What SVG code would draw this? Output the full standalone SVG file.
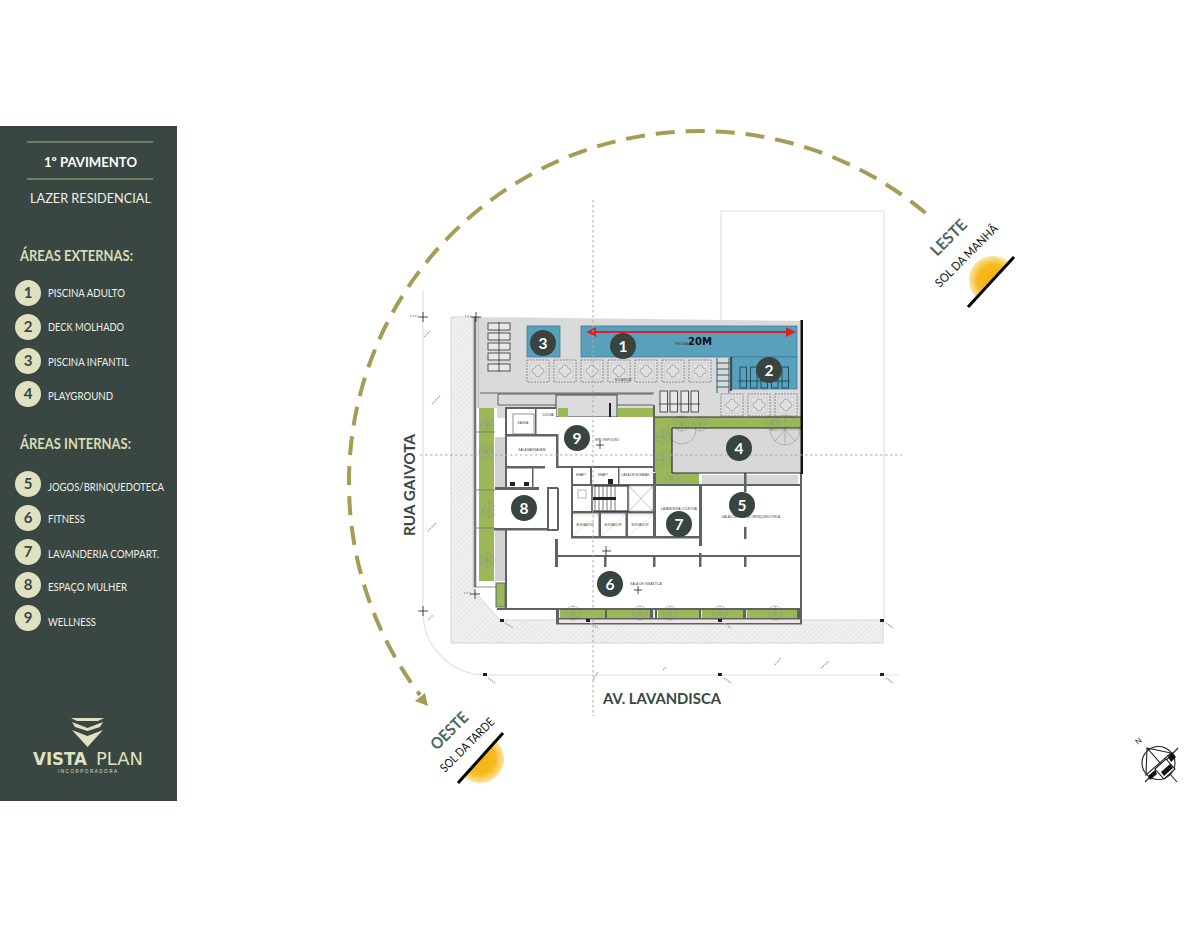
<svg xmlns="http://www.w3.org/2000/svg" width="1200" height="927" viewBox="0 0 1200 927">
<defs>
<style>
.s{font-family:"Lato","Liberation Sans",sans-serif}
.hd{font-size:14.5px;font-weight:700;fill:#d6dcb6}
.it{font-size:10.500px;fill:#eef0e6}
.num{font-size:15px;font-weight:700;fill:#3a4642;text-anchor:middle}
.bub{fill:#dfe1c0}
.tag{fill:#37443f}
.tagt{font-size:15.500px;font-weight:700;fill:#fff;text-anchor:middle;font-family:"Lato","Liberation Sans",sans-serif}
.wall{fill:#5f6463}
.fine{fill:none;stroke:#e2e2e2;stroke-width:1.200}
.tiny{font-family:"Liberation Sans",sans-serif;font-size:3.200px;fill:#444;text-anchor:middle}
.pl{fill:#e0e0e0;stroke:#777;stroke-width:.8;stroke-dasharray:2 1}
.pli{fill:none;stroke:#a8a8a8;stroke-width:.9}
.lg{fill:#e8e8e8;stroke:#444;stroke-width:.9}
.gr{fill:#9bb858}
.plant{fill:none;stroke:#8a9a80;stroke-width:.7;opacity:.8}
.road{font-family:"Lato","Liberation Sans",sans-serif;font-size:15.500px;font-weight:700;fill:#3a4642}
.dir{font-family:"Lato","Liberation Sans",sans-serif;font-size:16px;font-weight:700;fill:#4d6660}
.sun{font-family:"Lato","Liberation Sans",sans-serif;font-size:12px;fill:#111}
.mk{fill:#222}
.st{stroke:#aaa;stroke-width:1.500;fill:none;stroke-dasharray:1.500 1}
</style>
<pattern id="h" width="3.500" height="3.500" patternUnits="userSpaceOnUse" patternTransform="rotate(-45)">
<rect width="3.500" height="3.500" fill="#f0f0f0"/><line x1="0" y1="0" x2="3.500" y2="0" stroke="#dcdcdc" stroke-width="1"/>
</pattern>
<radialGradient id="ge" gradientUnits="userSpaceOnUse" cx="993" cy="280" r="24"><stop offset="0" stop-color="#f4b20c"/><stop offset=".65" stop-color="#f5bb22"/><stop offset="1" stop-color="#fbe6a8"/></radialGradient>
<radialGradient id="gw" gradientUnits="userSpaceOnUse" cx="480" cy="759" r="24"><stop offset="0" stop-color="#f4b20c"/><stop offset=".65" stop-color="#f5bb22"/><stop offset="1" stop-color="#fbe6a8"/></radialGradient>
<g id="p"><rect class="pl" width="22" height="22"/><path class="pli" d="M11 5a3 3 0 0 1 3 3a3 3 0 0 1 3 3a3 3 0 0 1-3 3a3 3 0 0 1-3 3a3 3 0 0 1-3-3a3 3 0 0 1-3-3a3 3 0 0 1 3-3a3 3 0 0 1 3-3z"/><rect x="3" y="3" width="16" height="16" fill="none" stroke="#c4c4c4" stroke-width=".6"/></g>
<g id="tree"><circle class="plant" r="7"/><path class="plant" d="M-7 0H7M0-7V7M-5-5L5 5M5-5L-5 5"/></g>
<marker id="ah" markerWidth="5" markerHeight="5" refX="4" refY="2.500" orient="auto"><path d="M0 0L5 2.500L0 5z" fill="#d8232a"/></marker>
<marker id="as" markerWidth="5" markerHeight="5" refX="4" refY="2.500" orient="auto-start-reverse"><path d="M0 0L5 2.500L0 5z" fill="#d8232a"/></marker>
</defs>
<rect width="1200" height="927" fill="#fff"/>
<g id="sidebar">
<rect width="177" height="675" y="126" fill="#3a4642"/>
<path d="M27 142H153M27 179H153" stroke="#aab58f" stroke-width="1"/>
<text class="s" x="44" y="167" font-size="13.500" font-weight="700" fill="#fff" textLength="93" lengthAdjust="spacingAndGlyphs">1º PAVIMENTO</text>
<text class="s" x="30" y="203" font-size="14" fill="#eef0e6" textLength="121" lengthAdjust="spacingAndGlyphs">LAZER RESIDENCIAL</text>
<text class="s hd" x="20" y="261" textLength="113" lengthAdjust="spacingAndGlyphs">ÁREAS EXTERNAS:</text>
<text class="s hd" x="20" y="449" textLength="111" lengthAdjust="spacingAndGlyphs">ÁREAS INTERNAS:</text>
<g id="k1"><circle class="bub" cx="28" cy="293" r="13"/><text class="s num" x="28" y="298">1</text><text class="s it" x="48" y="297" textLength="77" lengthAdjust="spacingAndGlyphs">PISCINA ADULTO</text></g>
<g id="k2"><circle class="bub" cx="28" cy="327" r="13"/><text class="s num" x="28" y="332">2</text><text class="s it" x="48" y="331" textLength="76" lengthAdjust="spacingAndGlyphs">DECK MOLHADO</text></g>
<g id="k3"><circle class="bub" cx="28" cy="361" r="13"/><text class="s num" x="28" y="366">3</text><text class="s it" x="48" y="366" textLength="81" lengthAdjust="spacingAndGlyphs">PISCINA INFANTIL</text></g>
<g id="k4"><circle class="bub" cx="28" cy="394" r="13"/><text class="s num" x="28" y="399">4</text><text class="s it" x="48" y="400" textLength="65" lengthAdjust="spacingAndGlyphs">PLAYGROUND</text></g>
<g id="k5"><circle class="bub" cx="28" cy="484" r="13"/><text class="s num" x="28" y="489">5</text><text class="s it" x="48" y="491" textLength="116" lengthAdjust="spacingAndGlyphs">JOGOS/BRINQUEDOTECA</text></g>
<g id="k6"><circle class="bub" cx="28" cy="518" r="13"/><text class="s num" x="28" y="523">6</text><text class="s it" x="48" y="523" textLength="37" lengthAdjust="spacingAndGlyphs">FITNESS</text></g>
<g id="k7"><circle class="bub" cx="28" cy="552" r="13"/><text class="s num" x="28" y="557">7</text><text class="s it" x="48" y="558" textLength="111" lengthAdjust="spacingAndGlyphs">LAVANDERIA COMPART.</text></g>
<g id="k8"><circle class="bub" cx="28" cy="585" r="13"/><text class="s num" x="28" y="590">8</text><text class="s it" x="48" y="591" textLength="79" lengthAdjust="spacingAndGlyphs">ESPAÇO MULHER</text></g>
<g id="k9"><circle class="bub" cx="28" cy="618" r="13"/><text class="s num" x="28" y="623">9</text><text class="s it" x="48" y="626" textLength="48" lengthAdjust="spacingAndGlyphs">WELLNESS</text></g>
<g id="logo">
<path d="M71 718H104L98 721H77zM72 722L87.500 728L103 722L100 727L87.500 731L75 727zM72 730L87.500 736L103 730L87.500 747z" fill="#dfe1c0"/>
<text x="33" y="765" font-family="'DejaVu Sans',sans-serif" font-size="17" font-weight="700" fill="#dfe1c0" textLength="54" lengthAdjust="spacingAndGlyphs">VISTA</text>
<text x="96" y="765" font-family="'DejaVu Sans',sans-serif" font-size="17" fill="#dfe1c0" textLength="47" lengthAdjust="spacingAndGlyphs">PLAN</text>
<text x="58" y="773" font-family="'Liberation Sans',sans-serif" font-size="4.500" fill="#dfe1c0" textLength="59">INCORPORADORA</text>
</g>
</g>
<g id="site">
<path class="fine" d="M721 320V211H884V620"/>
<path class="fine" d="M423 290V612A63 63 0 0 0 486 675H900"/>
<path d="M451 317H473V590L500 620H883V643H451z" fill="url(#h)" stroke="#d4d4d4"/>
<path d="M478 317L802 321V418H478z" fill="#dadada"/>
<path d="M474 317H476V587H474zM478 317V408" stroke="#777" fill="#777" stroke-width=".6"/>
<rect x="477" y="408" width="20" height="179" fill="#fff"/>
<rect x="479" y="408" width="15" height="173" class="gr"/>
<path d="M475 432H495M475 490H495M475 528H495M475 587H497" stroke="#777" stroke-width=".8"/>
<use href="#tree" x="487" y="425"/><use href="#tree" x="486" y="452"/><use href="#tree" x="489" y="510"/><use href="#tree" x="487" y="560"/>
<rect x="495" y="437" width="10" height="51" fill="#d2d2d2"/><rect x="495" y="530" width="10" height="51" fill="#d2d2d2"/>
<rect x="496" y="583" width="9" height="24" class="gr" stroke="#666"/>
<rect x="581" y="326" width="216" height="31" fill="#5aa0bd" stroke="#3a7f9a" stroke-width=".8"/>
<rect x="527" y="326" width="33" height="31" fill="#5aa0bd" stroke="#3a7f9a" stroke-width=".8"/>
<rect x="732" y="357" width="65" height="32" fill="#5aa0bd" stroke="#3a7f9a" stroke-width=".8"/>
<g class="lg"><rect x="488" y="323" width="22" height="7"/><rect x="488" y="333" width="22" height="7"/><rect x="488" y="343" width="22" height="7"/><rect x="488" y="353" width="22" height="7"/><rect x="488" y="364" width="22" height="7"/></g>
<path d="M499 322V372" stroke="#333" stroke-width=".8" fill="none"/>
<g fill="none" stroke="#1d5060" stroke-width="1"><rect x="740" y="367" width="6.500" height="21"/><rect x="750.500" y="367" width="6.500" height="21"/><rect x="761" y="367" width="6.500" height="21"/><rect x="771.500" y="367" width="6.500" height="21"/><rect x="782" y="367" width="6.500" height="21"/><path d="M738 381H790"/></g>
<g class="lg"><rect x="660" y="391" width="7.500" height="21"/><rect x="670" y="391" width="7.500" height="21"/><rect x="681" y="391" width="7.500" height="21"/><rect x="691" y="391" width="7.500" height="21"/><path d="M659 404H700" fill="none"/></g>
<use href="#p" x="527" y="360"/><use href="#p" x="554" y="360"/><use href="#p" x="581" y="360"/><use href="#p" x="608" y="360"/><use href="#p" x="635" y="360"/><use href="#p" x="662" y="360"/><use href="#p" x="689" y="360"/>
<use href="#p" x="721" y="394"/><use href="#p" x="748" y="394"/><use href="#p" x="775" y="394"/>
<path d="M717 358V393M729 358V393M717 363H729M717 369H729M717 375H729M717 381H729M717 387H729" stroke="#2b5a66" stroke-width="1" fill="none"/>
<path d="M731 357V391" stroke="#222" stroke-width="1.500"/>
<path d="M588 332H794" stroke="#d8232a" stroke-width="2" marker-start="url(#as)" marker-end="url(#ah)"/>
<text x="675" y="345" font-family="'Liberation Sans',sans-serif" font-size="3.200" fill="#333">PISCINA</text>
<text x="688" y="345" font-family="'DejaVu Sans',sans-serif" font-size="10" font-weight="700" fill="#111" textLength="24" lengthAdjust="spacingAndGlyphs">20M</text>
<text class="tiny" x="623" y="381">SOLARIUM</text>
<path d="M480 393H654M498 394H653M498 405H653M498 394V405" stroke="#444" stroke-width=".8" fill="none"/>
<rect x="556" y="395" width="61" height="22" fill="#dcdcdc" stroke="#333" stroke-width=".9"/>
<rect x="558" y="408" width="10" height="9" class="gr"/>
<rect x="618" y="408" width="35" height="9" class="gr"/>
<rect x="655" y="417" width="147" height="11" class="gr"/>
<rect x="655" y="417" width="17" height="67" class="gr"/>
<rect x="672" y="428" width="129" height="45" fill="#d8d8d8"/>
<rect x="657" y="473" width="42" height="11" class="gr"/>
<rect x="702" y="475" width="96" height="9" fill="#d8d8d8"/>
<use href="#tree" x="663" y="437"/><use href="#tree" x="663" y="460"/><use href="#tree" x="682" y="424"/><use href="#tree" x="700" y="424"/><use href="#tree" x="772" y="423"/><use href="#tree" x="672" y="479"/>
<circle class="plant" cx="682" cy="430" r="14"/><circle class="plant" cx="785" cy="430" r="15"/><path class="plant" d="M785 415V445M770 430H800M775 419L795 441M795 419L775 441"/>
<path d="M507 409H556V417H653V466H557V434H507z" fill="#fff"/>
<path d="M507 436H557V466H507z" fill="#fff"/>
<path d="M507 468H532V487H507z" fill="#fff"/>
<path d="M495 490H547V528H495z" fill="#fff"/>
<path d="M507 530H555V539H703V486H801V609H507z" fill="#fff"/>
<rect x="558" y="468" width="13" height="62" fill="#fff"/>
<rect x="571" y="467" width="84" height="71" fill="#fff"/>
<rect x="656" y="486" width="44" height="50" fill="#fff"/>
<rect x="548" y="489" width="9" height="40" fill="#fff"/>
<rect x="557" y="609" width="244" height="15" fill="#e8e8e8"/>
<rect x="560" y="609" width="45" height="9" class="gr"/><rect x="607" y="609" width="43" height="9" class="gr"/><rect x="658" y="609" width="41" height="9" class="gr"/><rect x="702" y="609" width="41" height="9" class="gr"/><rect x="747" y="609" width="50" height="9" class="gr"/>
<use href="#tree" x="573" y="613"/><use href="#tree" x="640" y="613"/><use href="#tree" x="670" y="613"/><use href="#tree" x="720" y="613"/><use href="#tree" x="775" y="613"/>
<g class="wall">
<rect x="505" y="408" width="2" height="81"/><rect x="505" y="407" width="51" height="2"/>
<rect x="535" y="409" width="1.500" height="26"/><rect x="505" y="434" width="53" height="2.500"/><rect x="556" y="434" width="2.500" height="34"/><rect x="556" y="466" width="98" height="2"/>
<rect x="505" y="466" width="40" height="2.500"/><rect x="653" y="405" width="2" height="67"/>
<rect x="495" y="487" width="44" height="3"/><rect x="532" y="468" width="1.500" height="20"/>
<rect x="494" y="528" width="54" height="2.500"/><rect x="505" y="530" width="2" height="80"/><rect x="547" y="488" width="2" height="42"/><rect x="557" y="488" width="2" height="42"/><rect x="547" y="487" width="11" height="2"/><rect x="547" y="529" width="11" height="2"/>
<rect x="571" y="467" width="2" height="71"/><rect x="571" y="484" width="84" height="2"/><rect x="571" y="511" width="84" height="2.500"/><rect x="571" y="536" width="84" height="2.500"/>
<rect x="590" y="467" width="2" height="18"/><rect x="618" y="467" width="1.500" height="18"/>
<rect x="598.500" y="513" width="2.500" height="24"/><rect x="625.500" y="513" width="2.500" height="24"/><rect x="653" y="473" width="3" height="65"/>
<rect x="655" y="484" width="46" height="2"/><rect x="655" y="536" width="46" height="2.500"/><rect x="699" y="484" width="3" height="62"/>
<rect x="702" y="484" width="98" height="2"/>
<rect x="555" y="539" width="3" height="28"/><rect x="558" y="555" width="185" height="2"/><rect x="699" y="555" width="102" height="2"/>
<rect x="604" y="555" width="2.500" height="12"/><rect x="653" y="555" width="2.500" height="12"/><rect x="699" y="553" width="2.500" height="14"/><rect x="744" y="555" width="2.500" height="12"/><rect x="744" y="527" width="2.500" height="12"/><rect x="744" y="473" width="2.500" height="19"/>
<rect x="800" y="473" width="2" height="151"/>
<rect x="497" y="608" width="59" height="2"/><rect x="556" y="608" width="246" height="2"/><rect x="556" y="618" width="246" height="1.500"/><rect x="556" y="623" width="246" height="1.500"/>
<rect x="556" y="608" width="3" height="16"/><rect x="605" y="608" width="2" height="11"/><rect x="650" y="608" width="3" height="11"/><rect x="655" y="608" width="2" height="11"/><rect x="699" y="608" width="2" height="11"/><rect x="743" y="608" width="3" height="11"/><rect x="797" y="608" width="3" height="11"/>
</g>
<path d="M655 417H802M672 428H802M672 428V473M672 473H802" stroke="#2b2f2e" stroke-width="1.200" fill="none"/>
<rect x="800.500" y="320" width="2.500" height="154" fill="#111"/>
<path d="M592 486H628V511H592z" stroke="#222" stroke-width="1.200" fill="none"/>
<path d="M595 486V511M599 486V511M603 486V511M607 486V511M611 486V511M615 486V511" stroke="#555" stroke-width=".8"/>
<rect x="593" y="497" width="23" height="3" fill="#222"/>
<path d="M629 486H653V511H629zM629 486L653 511M653 486L629 511" stroke="#999" stroke-width=".6" fill="none"/>
<path d="M573 515H598M598 515L573 536M601 515H625L601 536M628 515H653L628 536" stroke="#ccc" stroke-width=".5" fill="none"/>
<rect x="513" y="414" width="21" height="20" fill="none" stroke="#777" stroke-width=".8"/>
<rect x="578" y="490" width="8" height="8" fill="none" stroke="#999" stroke-width=".7"/>
<path class="mk" d="M510 482h5v4h-5zM524 482h5v4h-5zM608 479h5v5h-5zM609 403h2v14h-2z"/>
<text class="tiny" x="523" y="424">SAUNA</text><text class="tiny" x="548" y="416">DUCHA</text><text class="tiny" x="532" y="451">SALA MASSAGEM</text>
<text class="tiny" x="607" y="441">SPA / REPOUSO</text><text class="tiny" x="581" y="476">SHAFT</text><text class="tiny" x="603" y="476">SHAFT</text><text class="tiny" x="635" y="476">CASA DE BOMBAS</text>
<text class="tiny" x="585" y="526">ELEVADOR</text><text class="tiny" x="613" y="526">ELEVADOR</text><text class="tiny" x="640" y="526">ELEVADOR</text>
<text class="tiny" x="679" y="510">LAVANDERIA COLETIVA</text><text class="tiny" x="751" y="518">SALÃO DE JOGOS / BRINQUEDOTECA</text><text class="tiny" x="646" y="585">SALA DE GINÁSTICA</text>
<path d="M600 441V449M596 445H604M606 546V556M602 551H611M638 586V594M634 590H642M423 312V322M418 317H428M476 312V322M471 317H481M423 606V616M418 611H428M475 589V599M470 594H480" stroke="#222" stroke-width=".8"/>
<path class="mk" d="M500 619h4v3h-4zM586 619h4v3h-4zM718 619h4v3h-4zM880 619h4v3h-4zM483 673h4v3h-4zM718 673h4v3h-4zM880 673h4v3h-4z"/>
<path class="st" d="M505 623L513 628M591 623L598 628M724 623L731 628M886 623L893 628M488 678L495 683M724 678L731 683M886 678L893 683M424 337L430 331M432 404L440 396M428 531L436 523M428 620L433 615M593 680L598 672M663 670L666 667M775 665L781 658M821 668L829 661M410 316H418M465 316H471M464 593H471"/>
<path d="M593 200V716M420 455H902" fill="none" stroke="#aaa" stroke-width="1" stroke-dasharray="2.500 2.500"/>
<text transform="translate(415 536) rotate(-90)" class="road" textLength="102" lengthAdjust="spacingAndGlyphs">RUA GAIVOTA</text>
<text class="road" x="603" y="704" textLength="118" lengthAdjust="spacingAndGlyphs">AV. LAVANDISCA</text>
</g>
<g id="tags">
<g id="t1"><circle class="tag" cx="623" cy="346" r="13"/><text class="tagt" x="623" y="352">1</text></g>
<g id="t2"><circle class="tag" cx="769" cy="370" r="13"/><text class="tagt" x="769" y="376">2</text></g>
<g id="t3"><circle class="tag" cx="543" cy="343" r="13"/><text class="tagt" x="543" y="349">3</text></g>
<g id="t4"><circle class="tag" cx="739" cy="448" r="13"/><text class="tagt" x="739" y="454">4</text></g>
<g id="t5"><circle class="tag" cx="742" cy="505" r="13"/><text class="tagt" x="742" y="511">5</text></g>
<g id="t6"><circle class="tag" cx="610" cy="584" r="13"/><text class="tagt" x="610" y="590">6</text></g>
<g id="t7"><circle class="tag" cx="679" cy="524" r="13"/><text class="tagt" x="679" y="530">7</text></g>
<g id="t8"><circle class="tag" cx="524" cy="508" r="13"/><text class="tagt" x="524" y="514">8</text></g>
<g id="t9"><circle class="tag" cx="577" cy="438" r="13"/><text class="tagt" x="577" y="444">9</text></g>
</g>
<g id="connectors">
<path d="M925.400 213A351 351 0 0 0 349 482A351 351 0 0 0 420 695" fill="none" stroke="#a59c55" stroke-width="4" stroke-dasharray="19 11"/>
<path d="M428 706L415 701L425 693z" fill="#a59c55"/>
</g>
<g id="sun-east">
<path d="M977 298A24 24 0 0 1 1009 262Z" fill="url(#ge)"/>
<path d="M968 307L1014 257" stroke="#000" stroke-width="3"/>
<text class="dir" transform="translate(937 257) rotate(-45)" textLength="44" lengthAdjust="spacingAndGlyphs">LESTE</text>
<text class="sun" transform="translate(940 288) rotate(-45)" textLength="83" lengthAdjust="spacingAndGlyphs">SOL DA MANHÃ</text>
</g>
<g id="sun-west">
<path d="M496 741A24 24 0 0 1 464 777Z" fill="url(#gw)"/>
<path d="M458 783L503 733" stroke="#000" stroke-width="3"/>
<text class="dir" transform="translate(437 751) rotate(-45)" textLength="46" lengthAdjust="spacingAndGlyphs">OESTE</text>
<text class="sun" transform="translate(445 773) rotate(-45)" textLength="71" lengthAdjust="spacingAndGlyphs">SOL DA TARDE</text>
</g>
<g id="compass" fill="none" stroke="#222" stroke-width="1.100">
<circle cx="1158.500" cy="763" r="16.500"/><path d="M1147 748L1177 782M1145 782L1178 748M1147 748L1171 753L1146 775z"/>
<path d="M1148 776L1155 770L1157 774L1150 780zM1168 757L1172 752L1176 757L1171 762z" fill="#111" stroke="none"/>
<path d="M1155 769L1166 759L1175 769L1164 779z" fill="#fff" stroke="#222"/>
<path d="M1161 772L1170 764L1173 768L1164 776z" fill="#111" stroke="none"/>
<text transform="translate(1138 745) rotate(-40)" font-family="'Liberation Sans',sans-serif" font-size="8" fill="#222" stroke="none">N</text>
</g>
</svg>
